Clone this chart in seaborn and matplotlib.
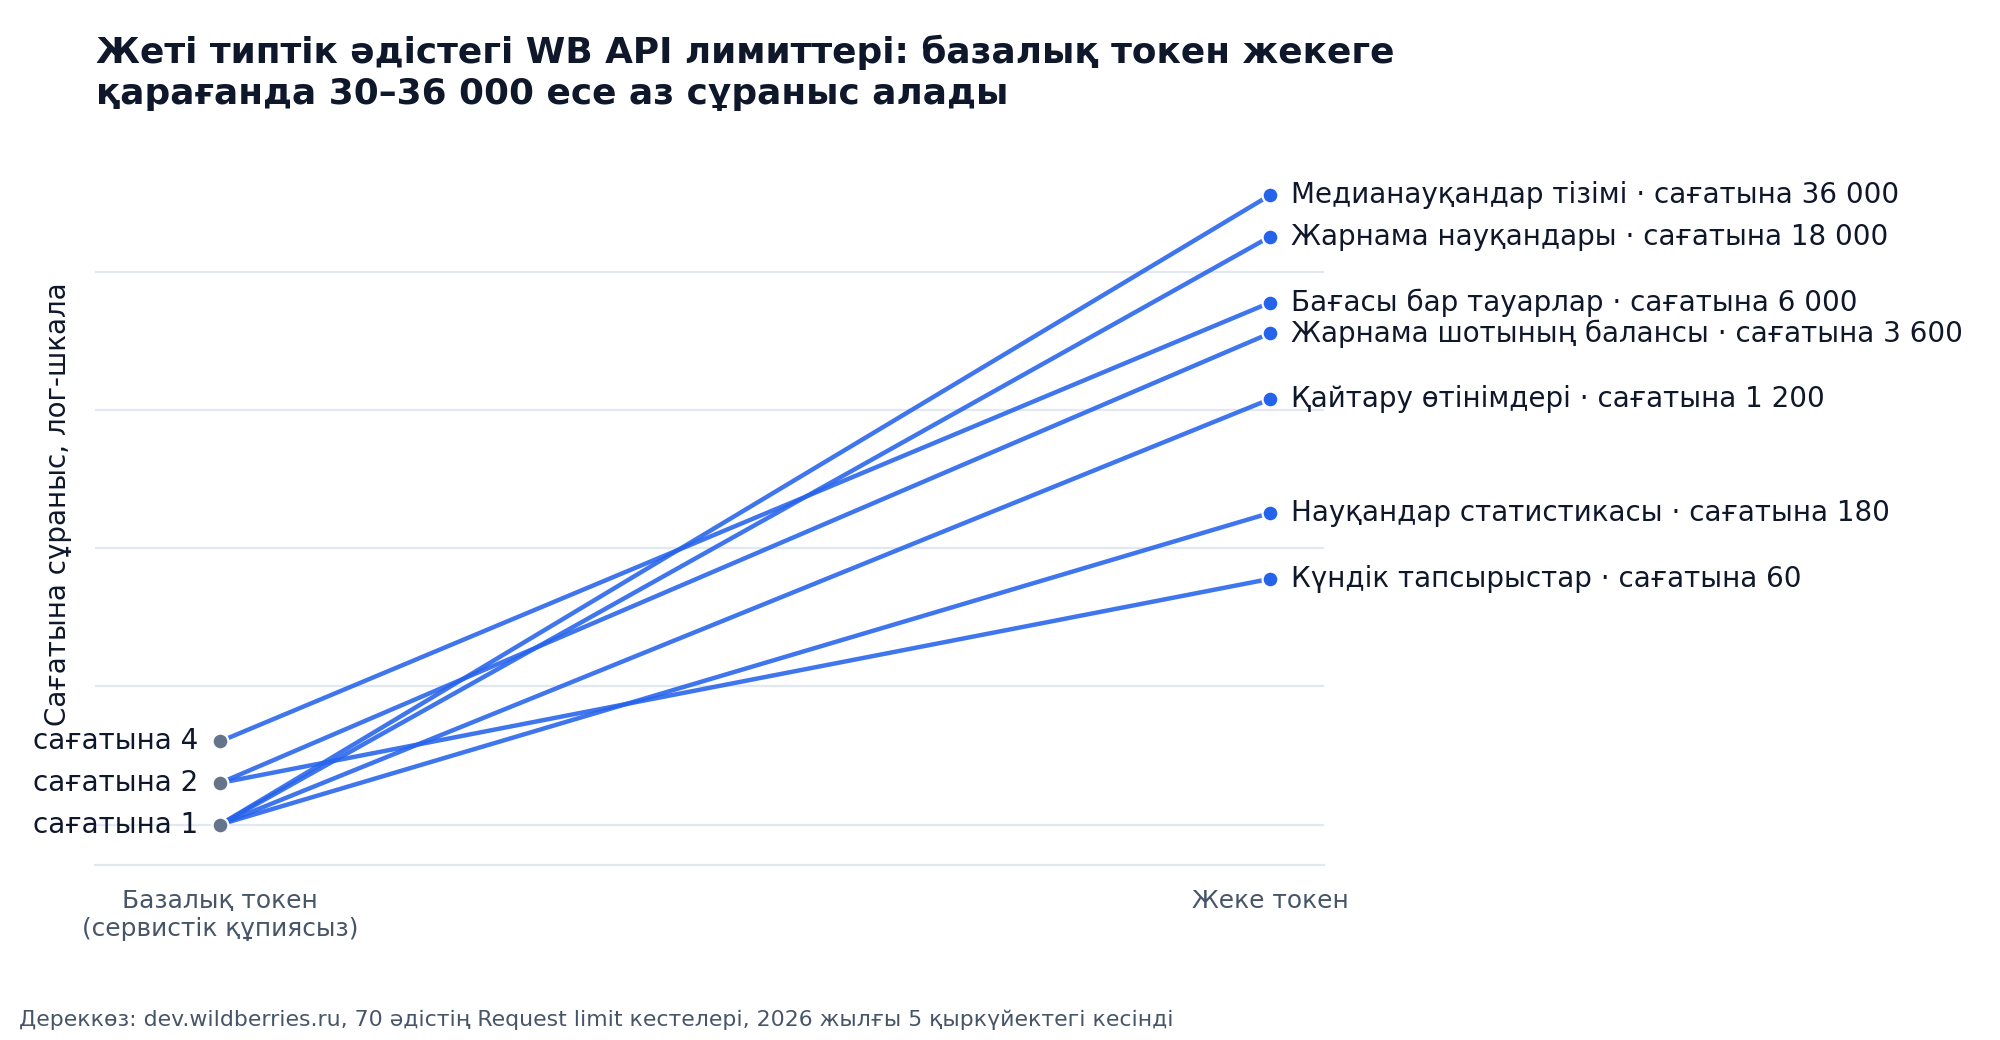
import matplotlib
matplotlib.use("Agg")
import matplotlib.pyplot as plt
import seaborn as sns
import pandas as pd

# ---- data ----
methods = [
    "Медианауқандар тізімі",
    "Жарнама науқандары",
    "Бағасы бар тауарлар",
    "Жарнама шотының балансы",
    "Қайтару өтінімдері",
    "Науқандар статистикасы",
    "Күндік тапсырыстар",
]
base_limits = [1, 1, 4, 2, 1, 1, 2]
personal_limits = [36000, 18000, 6000, 3600, 1200, 180, 60]
token_labels = ["Базалық токен\n(сервистік құпиясыз)", "Жеке токен"]

title = ("Жеті типтік әдістегі WB API лимиттері: базалық токен жекеге\n"
         "қарағанда 30–36 000 есе аз сұраныс алады")
ylabel = "Сағатына сұраныс, лог-шкала"
source = ("Дереккөз: dev.wildberries.ru, 70 әдістің Request limit кестелері, "
          "2026 жылғы 5 қыркүйектегі кесінді")

# ---- long table ----
rows = []
for m, b, p in zip(methods, base_limits, personal_limits):
    rows.append({"method": m, "pos": 0, "value": b})
    rows.append({"method": m, "pos": 1, "value": p})
df = pd.DataFrame(rows)
left = df[df.pos == 0].drop_duplicates("value")
right = df[df.pos == 1]

sns.set_theme(style="white")
plt.rcParams["font.family"] = ["DejaVu Sans"]

DARK = "#0f172a"
SLATE = "#475569"
BLUE = "#2563eb"
GRID = "#e2e8f0"

fig = plt.figure(figsize=(20, 10.4), dpi=100)
ax = fig.add_axes([0.0475, 0.1678, 0.6143, 0.674])

sns.lineplot(data=df, x="pos", y="value", units="method", estimator=None,
             color=BLUE, alpha=0.88, lw=3.2, legend=False, ax=ax, zorder=2)
sns.scatterplot(data=left, x="pos", y="value", color="#64748b", s=130,
                edgecolor="white", linewidth=1.6, ax=ax, zorder=4, legend=False)
sns.scatterplot(data=right, x="pos", y="value", color=BLUE, s=130,
                edgecolor="white", linewidth=1.6, ax=ax, zorder=4, legend=False)

ax.set_yscale("log")
ax.set_ylim(0.505, 60000)
ax.set_xlim(-0.1193, 1.0511)

# left labels
for v in left["value"]:
    ax.annotate(f"сағатына {v}", (0, v), xytext=(-15.5, 0), textcoords="offset points",
                ha="right", va="center", fontsize=20, color=DARK)
# right labels
for m, v in zip(right["method"], right["value"]):
    vs = f"{v:,}".replace(",", " ")
    ax.annotate(f"{m} · сағатына {vs}", (1, v), xytext=(15.5, 0), textcoords="offset points",
                ha="left", va="center", fontsize=20, color=DARK)

ax.set_xticks([0, 1])
ax.set_xticklabels(token_labels, fontsize=17.9, color=SLATE)
ax.tick_params(axis="x", length=0, pad=17)
ax.set_yticks([1, 10, 100, 1000, 10000])
ax.set_yticklabels([])
ax.yaxis.set_minor_locator(matplotlib.ticker.NullLocator())
ax.tick_params(axis="y", length=0)
ax.grid(axis="y", which="major", color=GRID, lw=1.6)
ax.set_xlabel("")
ax.set_ylabel(ylabel, fontsize=20, color=DARK, va="center")
ax.yaxis.set_label_coords(-0.030, 0.515)

for s in ["top", "right", "left"]:
    ax.spines[s].set_visible(False)
ax.spines["bottom"].set_color(GRID)
ax.spines["bottom"].set_linewidth(1.6)

fig.text(0.048, 0.930, title, fontsize=25.8, fontweight="bold", color=DARK,
         ha="left", va="center", linespacing=1.25)
fig.text(0.0095, 0.019, source, fontsize=15.8, color=SLATE, ha="left", va="center")

fig.savefig("out.png", dpi=100, facecolor="white")
